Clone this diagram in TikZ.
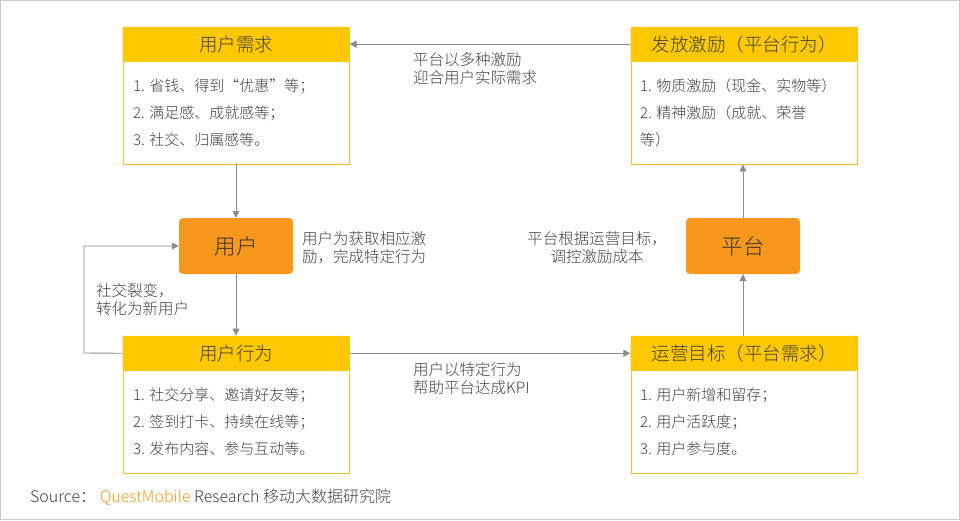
\documentclass[tikz,border=0pt]{standalone}
\usepackage{fontspec}
\setmainfont{Noto Sans CJK SC Light}
\usetikzlibrary{arrows.meta}
\definecolor{hdr}{HTML}{FFC800}
\definecolor{bdr}{HTML}{F2C12E}
\definecolor{org}{HTML}{F7981D}
\definecolor{txt}{HTML}{404040}
\definecolor{arr}{HTML}{8C8C8C}
\definecolor{frame}{HTML}{CCCCCC}
\tikzset{
  box/.style={draw=bdr, line width=0.9pt, fill=white, minimum width=226pt, minimum height=137pt, inner sep=0pt},
  hdrbox/.style={fill=hdr, rounded corners=2pt, minimum width=226.9pt, minimum height=35pt, inner sep=0pt, anchor=north, text=txt, font=\fontsize{18.5}{20}\selectfont},
  item/.style={anchor=west, inner sep=0pt, text=txt, font=\fontsize{15}{17}\selectfont},
  core/.style={fill=org, rounded corners=4pt, minimum width=114pt, minimum height=56pt, inner sep=0pt, text=black!80, font=\fontsize{21.5}{23}\selectfont},
  lbl/.style={inner sep=0pt, text=txt, align=left, font=\fontsize{15.5}{18}\selectfont},
  conn/.style={draw=arr, line width=0.9pt, -{Triangle[length=7pt,width=7pt]}}
}
\begin{document}
\begin{tikzpicture}[x=1pt,y=-1pt]
\useasboundingbox (0,0) rectangle (960,520);
\draw[frame, line width=1pt] (0.5,0.5) rectangle (959.5,519.5);

% boxes
\node[box] (need) at (236,95.5) {};
\node[hdrbox] (needh) at (need.north) {用户需求};
\node[item] (need1) at (133,86) {1. 省钱、得到“优惠”等；};
\node[item] (need2) at (133,113) {2. 满足感、成就感等；};
\node[item] (need3) at (133,140) {3. 社交、归属感等。};

\node[box] (rew) at (744,95.5) {};
\node[hdrbox] (rewh) at (rew.north) {发放激励（平台行为）};
\node[item] (rew1) at (640,86) {1. 物质激励（现金、实物等）};
\node[item] (rew2) at (640,113) {2. 精神激励（成就、荣誉};
\node[item] (rew3) at (640,140) {等）};

\node[box] (act) at (236,404.5) {};
\node[hdrbox] (acth) at (act.north) {用户行为};
\node[item] (act1) at (133,395) {1. 社交分享、邀请好友等；};
\node[item] (act2) at (133,422) {2. 签到打卡、持续在线等；};
\node[item] (act3) at (133,449) {3. 发布内容、参与互动等。};

\node[box] (goal) at (744,404.5) {};
\node[hdrbox] (goalh) at (goal.north) {运营目标（平台需求）};
\node[item] (goal1) at (640,395) {1. 用户新增和留存；};
\node[item] (goal2) at (640,422) {2. 用户活跃度；};
\node[item] (goal3) at (640,449) {3. 用户参与度。};

\node[core] (user) at (236,246) {用户};
\node[core] (plat) at (743,246) {平台};

% connectors
\draw[conn] (rewh.west) -- (needh.east);
\draw[conn] (need.south) -- (user.north);
\draw[conn] (user.south) -- (acth.north);
\coordinate (loop) at (84,353);
\draw[conn] (acth.west) -- (loop) |- (user.west);
\draw[conn] (acth.east) -- (goalh.west);
\draw[conn] (goalh.north -| plat.south) -- (plat.south);
\draw[conn] (plat.north) -- (rew.south -| plat.north);

% labels
\node[lbl, anchor=west] (l1) at (413,69) {平台以多种激励\\迎合用户实际需求};
\node[lbl, anchor=west] (l2) at (302,248) {用户为获取相应激\\励，完成特定行为};
\node[lbl, align=center] (l3) at (597,248) {平台根据运营目标，\\调控激励成本};
\node[lbl, anchor=west] (l4) at (96,300) {社交裂变，\\转化为新用户};
\node[lbl, anchor=west] (l5) at (413,379) {用户以特定行为\\帮助平台达成KPI};

\node[anchor=west, inner sep=0pt, font=\fontsize{16}{18}\selectfont, text=txt] (src) at (30,497) {Source： \textcolor{org}{QuestMobile} Research 移动大数据研究院};
\end{tikzpicture}
\end{document}
